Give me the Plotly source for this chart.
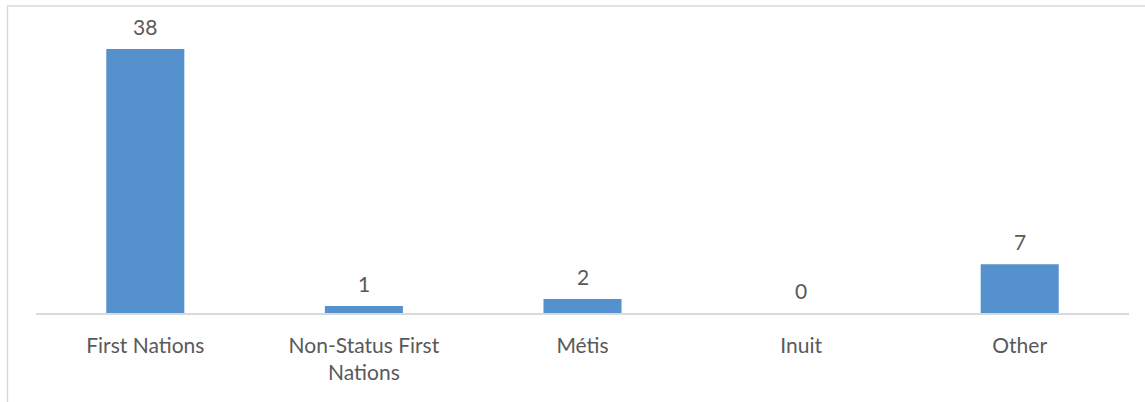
import plotly.graph_objects as go

categories = ["First Nations", "Non-Status First<br>Nations", "Métis", "Inuit", "Other"]
counts = [38, 1, 2, 0, 7]

BAR_COLOR = "#5591cd"
TEXT_COLOR = "#595959"
FRAME_COLOR = "#d9d9d9"
FONT = "Lato, 'Open Sans', sans-serif"
FONT_SIZE = 21

fig = go.Figure(
    go.Bar(
        x=categories,
        y=counts,
        marker=dict(color=BAR_COLOR, line=dict(width=0)),
        hoverinfo="skip",
    )
)

# value labels above each bar
for cat, val in zip(categories, counts):
    fig.add_annotation(
        x=cat, y=val, text=str(val), showarrow=False,
        yanchor="bottom", yshift=8,
        font=dict(family=FONT, size=FONT_SIZE, color=TEXT_COLOR),
    )

# outer chart frame (left and top edges visible)
fig.add_shape(
    type="rect", xref="paper", yref="paper",
    x0=-0.0261, x1=1.1, y0=-0.5, y1=1.0478,
    line=dict(color=FRAME_COLOR, width=1.5), layer="below",
)

fig.update_layout(
    width=1145, height=402,
    margin=dict(l=36, r=16, t=20, b=89),
    paper_bgcolor="white", plot_bgcolor="white",
    bargap=0.643,
    showlegend=False,
    font=dict(family=FONT, size=FONT_SIZE, color=TEXT_COLOR),
    xaxis=dict(
        showline=True, linecolor=FRAME_COLOR, linewidth=1.5,
        showgrid=False, zeroline=False, ticks="",
        tickfont=dict(family=FONT, size=FONT_SIZE, color=TEXT_COLOR),
        ticklabelstandoff=13, fixedrange=True,
    ),
    yaxis=dict(
        range=[0, 42.16], visible=False, showgrid=False, zeroline=False,
        fixedrange=True,
    ),
)

fig.write_html("out.html")
